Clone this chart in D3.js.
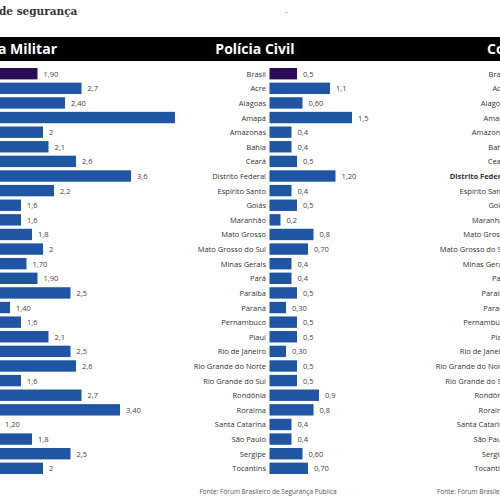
<!DOCTYPE html>
<html lang="pt">
<head>
<meta charset="UTF-8" />
<script src="https://d3js.org/d3.v7.min.js"></script>
<style>
  body { margin: 0; background: #fff; }
  text { font-family: "Open Sans", "Noto Sans", sans-serif; }
</style>
</head>
<body>
<svg id="chart" width="500" height="500"></svg>
<script>
  // estados (Brasil primeiro)
  const estados = ["Brasil", "Acre", "Alagoas", "Amapá", "Amazonas", "Bahia", "Ceará",
    "Distrito Federal", "Espírito Santo", "Goiás", "Maranhão", "Mato Grosso",
    "Mato Grosso do Sul", "Minas Gerais", "Pará", "Paraíba", "Paraná", "Pernambuco",
    "Piauí", "Rio de Janeiro", "Rio Grande do Norte", "Rio Grande do Sul", "Rondônia",
    "Roraima", "Santa Catarina", "São Paulo", "Sergipe", "Tocantins"];

  const militar = [1.9, 2.7, 2.4, 4.4, 2, 2.1, 2.6, 3.6, 2.2, 1.6, 1.6, 1.8, 2, 1.7,
    1.9, 2.5, 1.4, 1.6, 2.1, 2.5, 2.6, 1.6, 2.7, 3.4, 1.2, 1.8, 2.5, 2];
  // o rótulo do Amapá não aparece na imagem
  const militarRotulos = ["1,90", "2,7", "2,40", "", "2", "2,1", "2,6", "3,6", "2,2",
    "1,6", "1,6", "1,8", "2", "1,70", "1,90", "2,5", "1,40", "1,6", "2,1", "2,5", "2,6",
    "1,6", "2,7", "3,40", "1,20", "1,8", "2,5", "2"];

  const civil = [0.5, 1.1, 0.6, 1.5, 0.4, 0.4, 0.5, 1.2, 0.4, 0.5, 0.2, 0.8, 0.7, 0.4,
    0.4, 0.5, 0.3, 0.5, 0.5, 0.3, 0.5, 0.5, 0.9, 0.8, 0.4, 0.4, 0.6, 0.7];
  const civilRotulos = ["0,5", "1,1", "0,60", "1,5", "0,4", "0,4", "0,5", "1,20", "0,4",
    "0,5", "0,2", "0,8", "0,70", "0,4", "0,4", "0,5", "0,30", "0,5", "0,5", "0,30", "0,5",
    "0,5", "0,9", "0,8", "0,4", "0,4", "0,60", "0,70"];

  const svg = d3.select("#chart");
  const azul = "#1f55a3", roxo = "#2c0b57";

  const y = d3.scaleBand().domain(estados).range([68, 474]).paddingInner(0.22);
  const xMil = d3.scaleLinear().domain([0, 1]).range([-67, -12]);
  const xCiv = d3.scaleLinear().domain([0, 1]).range([269.5, 324.5]);

  // cabeçalho
  svg.append("text").attr("x", -1).attr("y", 15).attr("font-size", 10.5)
    .attr("font-weight", "bold").style("font-family", "'DejaVu Serif', serif")
    .attr("fill", "#333").text("de segurança");
  svg.append("text").attr("x", 285).attr("y", 14).attr("font-size", 8)
    .attr("fill", "#666").text("-");
  svg.append("rect").attr("x", 0).attr("y", 37).attr("width", 500).attr("height", 24)
    .attr("fill", "#000");
  svg.append("text").attr("x", 57).attr("y", 54).attr("text-anchor", "end")
    .attr("font-size", 14).attr("font-weight", "bold").attr("fill", "#fff")
    .text("Polícia Militar");
  svg.append("text").attr("x", 255).attr("y", 54).attr("text-anchor", "middle")
    .attr("font-size", 14).attr("font-weight", "bold").attr("fill", "#fff")
    .text("Polícia Civil");
  svg.append("text").attr("x", 487).attr("y", 54).attr("font-size", 14)
    .attr("font-weight", "bold").attr("fill", "#fff").text("Corpo de Bombeiros");

  function painel(valores, rotulos, x) {
    const g = svg.append("g");
    g.selectAll("rect").data(valores).join("rect")
      .attr("x", x(0)).attr("y", (d, i) => y(estados[i]))
      .attr("width", d => x(d) - x(0)).attr("height", y.bandwidth())
      .attr("fill", (d, i) => i === 0 ? roxo : azul);
    g.selectAll("text").data(valores).join("text")
      .attr("x", d => x(d) + 6).attr("y", (d, i) => y(estados[i]) + y.bandwidth() / 2 + 3)
      .attr("font-size", 7.5).attr("fill", "#444").text((d, i) => rotulos[i]);
  }
  painel(militar, militarRotulos, xMil);
  painel(civil, civilRotulos, xCiv);

  // rótulos dos estados
  [266, 508].forEach(px => {
    svg.append("g").selectAll("text").data(estados).join("text")
      .attr("x", px).attr("y", d => y(d) + y.bandwidth() / 2 + 3)
      .attr("text-anchor", "end").attr("font-size", 7.5).attr("fill", "#333")
      .attr("font-weight", d => px > 400 && d === "Distrito Federal" ? "bold" : "normal")
      .text(d => d);
  });

  svg.append("text").attr("x", 268).attr("y", 494).attr("text-anchor", "middle")
    .attr("font-size", 6.5).attr("fill", "#555")
    .text("Fonte: Fórum Brasileiro de Segurança Pública");
  svg.append("text").attr("x", 437).attr("y", 494).attr("font-size", 6.5)
    .attr("fill", "#555").text("Fonte: Fórum Brasileiro de Segurança Pública");
</script>
</body>
</html>
